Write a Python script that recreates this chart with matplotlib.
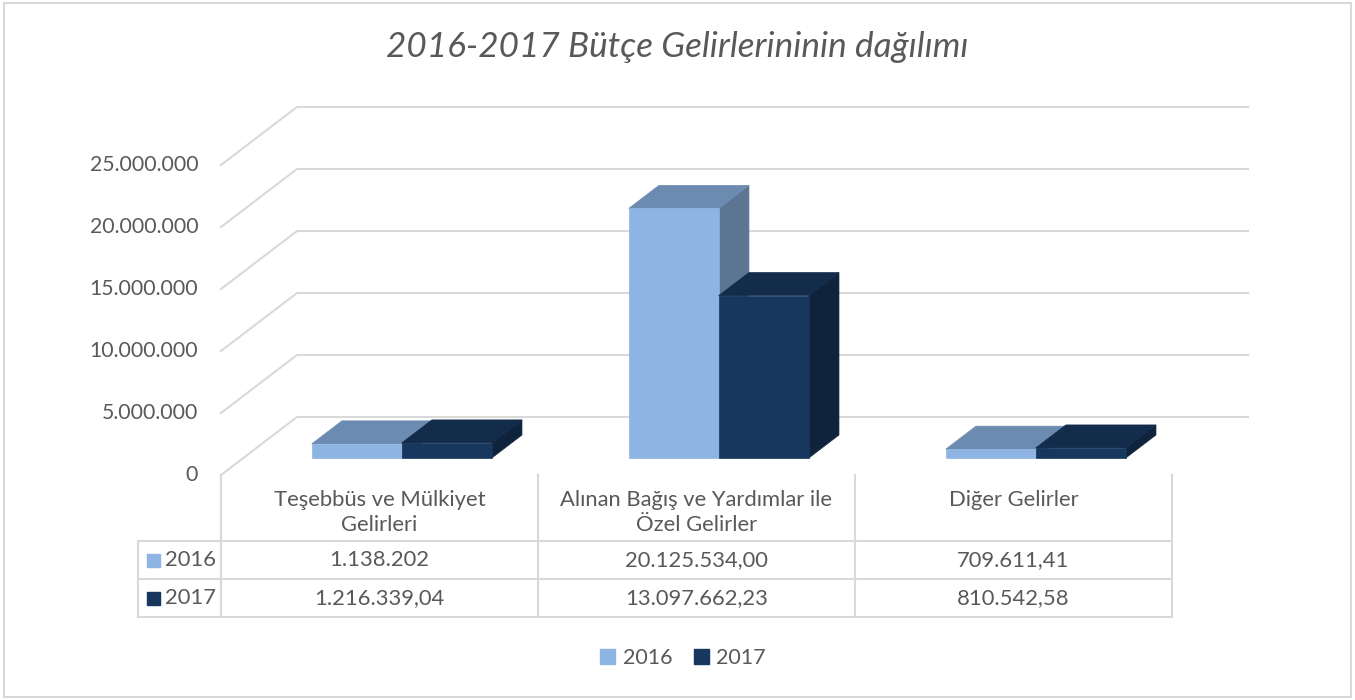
import matplotlib
matplotlib.use("Agg")
import matplotlib.pyplot as plt
import matplotlib.patches as mpatches
from matplotlib.patches import Polygon, Rectangle
from matplotlib.lines import Line2D

categories = ["Teşebbüs ve Mülkiyet\nGelirleri",
              "Alınan Bağış ve Yardımlar ile\nÖzel Gelirler",
              "Diğer Gelirler"]
series_names = ["2016", "2017"]
values_2016 = [1138202.00, 20125534.00, 709611.41]
values_2017 = [1216339.04, 13097662.23, 810542.58]
labels_2016 = ["1.138.202", "20.125.534,00", "709.611,41"]
labels_2017 = ["1.216.339,04", "13.097.662,23", "810.542,58"]
yticks = [0, 5000000, 10000000, 15000000, 20000000, 25000000]
ytick_labels = ["0", "5.000.000", "10.000.000", "15.000.000", "20.000.000", "25.000.000"]

front = {"2016": "#8db4e2", "2017": "#17375e"}
top = {"2016": "#6c8bb1", "2017": "#132c4c"}
side = {"2016": "#5c7593", "2017": "#10233d"}
text_color = "#595959"
grid_color = "#d9d9d9"
FONT = "Lato"

W, H = 1355, 700
fig = plt.figure(figsize=(W / 100, H / 100), dpi=100)

# outer border
fig.patches.append(Rectangle((4 / W, 3 / H), 1347 / W, 694 / H, transform=fig.transFigure,
                             fill=False, edgecolor=grid_color, lw=1.5))

# front plane axes: x categories 0..3, y values 0..25M
x0, x1 = 221, 1172
yb, yt = 475, 165
ax = fig.add_axes([x0 / W, 1 - yb / H, (x1 - x0) / W, (yb - yt) / H])
ax.set_xlim(0, 3)
ax.set_ylim(0, 25000000)
ax.axis("off")

px_per_cat = (x1 - x0) / 3
px_per_val = (yb - yt) / 25000000
DX = 76 / px_per_cat   # depth vector in data units
DY = 58 / px_per_val


def proj(x, y, z):
    return (x + z * DX, y + z * DY)


# walls / gridlines
for v, lab in zip(yticks, ytick_labels):
    pts = [proj(0, v, 0), proj(0, v, 1), proj(3, v, 1)]
    ax.add_line(Line2D([p[0] for p in pts], [p[1] for p in pts], color=grid_color,
                       lw=1.5, clip_on=False, zorder=1))
    ax.text(-0.072, v, lab, ha="right", va="center", fontsize=15.3,
            color=text_color, family=FONT)

# 3D bars
z0, z1 = 0.293, 0.69
bw = 0.284
for name, vals in (("2016", values_2016), ("2017", values_2017)):
    for i, v in enumerate(vals):
        xl = i + 0.5 - bw if name == "2016" else i + 0.5
        xr = xl + bw
        front_poly = [proj(xl, 0, z0), proj(xr, 0, z0), proj(xr, v, z0), proj(xl, v, z0)]
        top_poly = [proj(xl, v, z0), proj(xr, v, z0), proj(xr, v, z1), proj(xl, v, z1)]
        side_poly = [proj(xr, 0, z0), proj(xr, 0, z1), proj(xr, v, z1), proj(xr, v, z0)]
        zo = 3 if name == "2016" else 4
        for poly, col in ((side_poly, side[name]), (top_poly, top[name]), (front_poly, front[name])):
            ax.add_patch(Polygon(poly, closed=True, facecolor=col, edgecolor=col, lw=0.5,
                                 clip_on=False, zorder=zo))

# data table
tax = fig.add_axes([0, 0, 1, 1])
tax.set_xlim(0, W)
tax.set_ylim(H, 0)
tax.axis("off")
col_x = [x0 + px_per_cat * k for k in range(4)]
row_y = [475, 541, 579, 617]
tl = 138
tkw = dict(color=grid_color, lw=1.5)
for cx in col_x:
    tax.plot([cx, cx], [row_y[0], row_y[-1]], **tkw)
tax.plot([tl, tl], [row_y[1], row_y[-1]], **tkw)
for ry in row_y[1:]:
    tax.plot([tl, col_x[-1]], [ry, ry], **tkw)

fs = 15.8
for k, cat in enumerate(categories):
    cx = (col_x[k] + col_x[k + 1]) / 2
    tax.text(cx, 490, cat, ha="center", va="top",
             fontsize=fs, color=text_color, family=FONT, linespacing=1.3)
    tax.text(cx, (row_y[1] + row_y[2]) / 2, labels_2016[k], ha="center", va="center",
             fontsize=fs, color=text_color, family=FONT)
    tax.text(cx, (row_y[2] + row_y[3]) / 2, labels_2017[k], ha="center", va="center",
             fontsize=fs, color=text_color, family=FONT)

for r, name in enumerate(series_names):
    cy = (row_y[r + 1] + row_y[r + 2]) / 2
    tax.add_patch(Rectangle((147, cy - 6.5), 13, 13, color=front[name]))
    tax.text(165, cy, name, ha="left", va="center", fontsize=fs, color=text_color, family=FONT)

# legend
handles = [mpatches.Patch(color=front[n], label=n) for n in series_names]
leg = fig.legend(handles=handles, loc="center", bbox_to_anchor=(683 / W, 1 - 658 / H),
                 ncol=2, frameon=False, handlelength=0.7, handleheight=0.7,
                 handletextpad=0.35, columnspacing=1.0,
                 prop={"family": FONT, "size": 15.5})
for t in leg.get_texts():
    t.set_color(text_color)

fig.text(677 / W, 1 - 47 / H, "2016-2017 Bütçe Gelirlerininin dağılımı", ha="center",
         va="center", fontsize=25.3, style="italic", color=text_color, family=FONT)

fig.savefig("out.png", dpi=100)
